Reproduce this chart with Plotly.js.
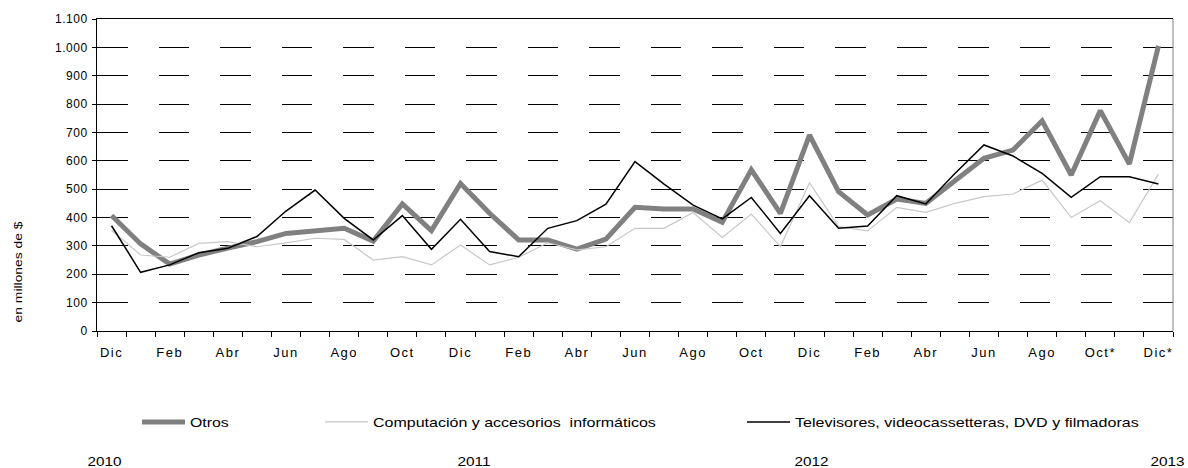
<!DOCTYPE html>
<html>
<head>
<meta charset="utf-8">
<script src="https://cdn.plot.ly/plotly-3.0.1.min.js"></script>
<style>
html,body{margin:0;padding:0;background:#fff;}
#chart{width:1188px;height:468px;}
.xtick text{letter-spacing:1.5px;}
.ytick text{letter-spacing:0.5px;}
</style>
</head>
<body>
<div id="chart"></div>
<script>
const months = ['Dic 2010','Ene 2011','Feb 2011','Mar 2011','Abr 2011','May 2011','Jun 2011','Jul 2011','Ago 2011','Sep 2011','Oct 2011','Nov 2011','Dic 2011',
  'Ene 2012','Feb 2012','Mar 2012','Abr 2012','May 2012','Jun 2012','Jul 2012','Ago 2012','Sep 2012','Oct 2012','Nov 2012','Dic 2012',
  'Ene 2013','Feb 2013','Mar 2013','Abr 2013','May 2013','Jun 2013','Jul 2013','Ago 2013','Sep 2013','Oct 2013','Nov 2013','Dic 2013'];
const tickLabels = ['Dic','Feb','Abr','Jun','Ago','Oct','Dic','Feb','Abr','Jun','Ago','Oct','Dic','Feb','Abr','Jun','Ago','Oct*','Dic*'];
const otros = [407,307,236,268,292,315,344,353,362,317,448,354,520,415,321,321,289,324,436,430,430,383,568,415,691,491,409,465,450,530,609,638,741,550,777,589,1005];
const computacion = [355,268,260,309,315,297,311,327,323,250,262,233,303,233,260,311,286,297,362,362,418,330,412,297,523,368,353,436,418,450,474,483,532,400,459,382,553];
const televisores = [371,207,233,276,292,333,423,497,397,321,407,288,394,280,262,362,389,447,597,518,444,395,471,344,477,362,370,477,448,555,656,617,556,471,544,544,518];
const seriesNames = ['Otros','Computación y accesorios  informáticos','Televisores, videocassetteras, DVD y filmadoras'];
const years = ['2010','2011','2012','2013'];
const yTitle = 'en millones de $';

const xIdx = months.map((m, i) => i);
const tickIdx = tickLabels.map((t, i) => i * 2);
const boundaries = months.map((m, i) => i - 0.5).concat([months.length - 0.5]);

const font = 'Liberation Sans, Arial, sans-serif';

const traces = [
  {x: xIdx, y: otros, name: seriesNames[0], type: 'scatter', mode: 'lines',
   line: {color: '#808080', width: 5}, legend: 'legend', text: months, hoverinfo: 'text+y'},
  {x: xIdx, y: computacion, name: seriesNames[1], type: 'scatter', mode: 'lines',
   line: {color: '#c8c8c8', width: 1.2}, legend: 'legend2', text: months, hoverinfo: 'text+y'},
  {x: xIdx, y: televisores, name: seriesNames[2], type: 'scatter', mode: 'lines',
   line: {color: '#000000', width: 1.5}, legend: 'legend3', text: months, hoverinfo: 'text+y'}
];

const L = 97, R = 15, T = 19, B = 137, W = 1188, H = 468;
const pw = W - L - R, ph = H - T - B;
const px = v => (v - L) / pw;
const py = v => (H - B - v) / ph;

const legendBase = {orientation: 'h', xref: 'container', yref: 'container',
  xanchor: 'left', yanchor: 'middle', y: 1 - 422 / H, entrywidthmode: 'pixels',
  font: {family: font, size: 13, color: '#000'}, bgcolor: 'rgba(0,0,0,0)', itemwidth: 43};

const yearX = [104, 474, 812, 1167];

const layout = {
  width: W, height: H,
  margin: {l: L, r: R, t: T, b: B, pad: 0, autoexpand: false},
  paper_bgcolor: '#fff', plot_bgcolor: '#fff',
  separators: ',.',
  showlegend: true,
  font: {family: font, size: 12, color: '#000'},
  xaxis: {
    range: [-0.5, months.length - 0.5],
    tickmode: 'array', tickvals: tickIdx, ticktext: tickLabels,
    ticks: 'outside', ticklen: 9, tickcolor: 'rgba(0,0,0,0)',
    tickfont: {family: font, size: 13, color: '#000'},
    showgrid: false, zeroline: false,
    showline: true, linecolor: '#000', linewidth: 1, mirror: true,
    minor: {tickmode: 'array', tickvals: boundaries, ticks: 'outside', ticklen: 5, tickcolor: '#000', tickwidth: 1, showgrid: false},
    fixedrange: true
  },
  yaxis: {
    range: [0, 1100], tickmode: 'linear', tick0: 0, dtick: 100,
    separatethousands: true, tickformat: ',d',
    ticks: 'outside', ticklen: 4, tickcolor: '#000', ticklabelstandoff: 2,
    tickfont: {family: font, size: 12, color: '#000'},
    showgrid: true, gridcolor: '#000', gridwidth: 1, griddash: '30.5px,31px',
    zeroline: false, showline: true, linecolor: '#000', linewidth: 1,
    fixedrange: true
  },
  legend: Object.assign({}, legendBase, {x: 137 / W, entrywidth: 110}),
  legend2: Object.assign({}, legendBase, {x: 320 / W, entrywidth: 340}),
  legend3: Object.assign({}, legendBase, {x: 742 / W, entrywidth: 395}),
  shapes: [
    {type: 'line', xref: 'paper', yref: 'paper', x0: 1, x1: 1, y0: 0, y1: 1, line: {color: '#808080', width: 1}}
  ],
  annotations: years.map((y, i) => ({
    text: y, xref: 'paper', yref: 'paper', x: px(yearX[i]), y: py(461),
    xanchor: 'center', yanchor: 'middle', showarrow: false,
    font: {family: font, size: 13, color: '#000'}
  })).concat([{
    text: yTitle, xref: 'paper', yref: 'paper', x: px(18), y: py(272),
    xanchor: 'center', yanchor: 'middle', textangle: -90, showarrow: false,
    font: {family: font, size: 11, color: '#000'}
  }])
};

// Emulate the wide, letter-spaced text of the original by stretching each text horizontally
function stretchEl(t, spacing) {
  t.removeAttribute('transform');
  const w = t.getComputedTextLength();
  if (!w) return;
  const n = t.textContent.length;
  const s = (w + n * spacing) / w;
  const x = parseFloat(t.getAttribute('x')) || 0;
  t.setAttribute('transform', 'translate(' + x + ',0) scale(' + s + ',1) translate(' + (-x) + ',0)');
}
function fixTexts() {
  document.querySelectorAll('#chart text').forEach(function (t) {
    const cls = t.getAttribute('class') || '';
    if (cls.indexOf('legendtext') >= 0 || seriesNames.indexOf(t.textContent) >= 0) {
      stretchEl(t, 1.4);
    } else if (cls.indexOf('annotation-text') >= 0) {
      stretchEl(t, 1.3);
    }
  });
  document.querySelectorAll('#chart g.scrollbox').forEach(function (g) { g.removeAttribute('clip-path'); });
}

Plotly.newPlot('chart', traces, layout, {displayModeBar: false, staticPlot: true}).then(function () {
  fixTexts();
  setTimeout(fixTexts, 50);
  setTimeout(fixTexts, 250);
});
</script>
</body>
</html>
